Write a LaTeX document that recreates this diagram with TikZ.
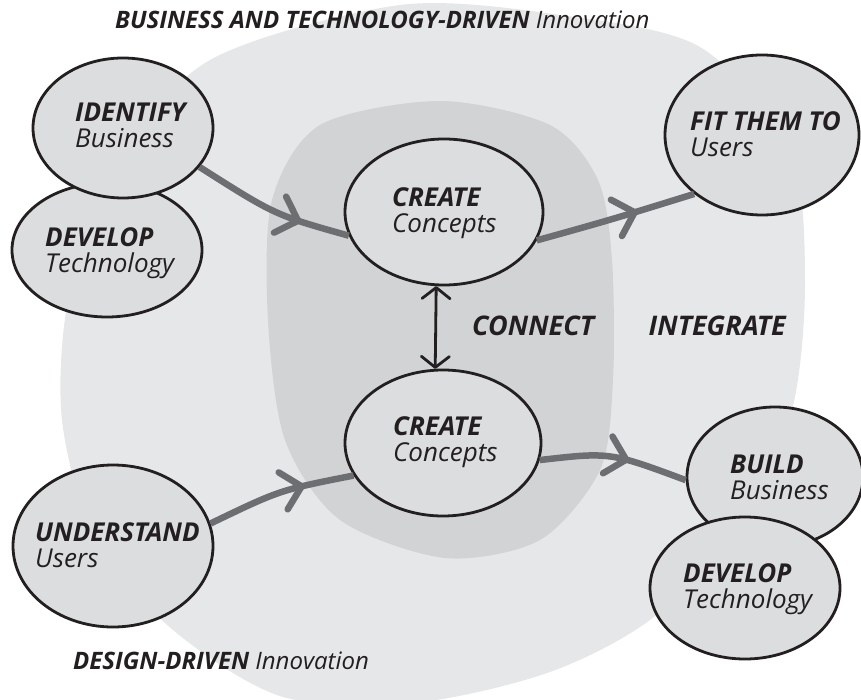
\documentclass[tikz,border=0pt]{standalone}
\usepackage{fontspec}
\setmainfont{Open Sans}
\usepackage{xcolor}
\usepackage{tikz}
\usetikzlibrary{positioning,calc,shapes.geometric,decorations.markings,arrows.meta}

\definecolor{bgOuter}{HTML}{E6E7E8}
\definecolor{bgInner}{HTML}{D1D3D4}
\definecolor{bubbleFill}{HTML}{DCDDDF}
\definecolor{flowGrey}{HTML}{6D6E71}
\definecolor{ink}{HTML}{231F20}

\begin{document}
\begin{tikzpicture}[
    x=1pt, y=-1pt, line join=round,
    bubble/.style={ellipse, draw=ink, line width=2.8pt, fill=bubbleFill, inner sep=0pt},
    txt/.style={anchor=base west, align=left, inner sep=0pt, text=ink, font=\fontsize{26}{26}\selectfont\itshape},
    title/.style={inner sep=0pt, text=ink, font=\fontsize{24}{24}\selectfont\itshape},
    tag/.style={inner sep=0pt, text=ink, font=\fontsize{27}{27}\selectfont\bfseries\itshape},
    flow/.style={draw=flowGrey, line width=6.5pt,
      postaction={decorate, decoration={markings, mark=at position #1 with {
        \draw[flowGrey, line width=6.5pt, line cap=round] (-19pt,19pt) -- (0pt,0pt) -- (-19pt,-19pt);}}}},
    link/.style={draw=ink, line width=2.8pt,
      {Straight Barb[length=11pt,width=28pt,round]}-{Straight Barb[length=11pt,width=28pt,round]}}
]

\path[use as bounding box] (0,0) rectangle (861,700);

% ===== BACKGROUND =====
\fill[bgOuter] plot[smooth cycle] coordinates {(400,5) (560,15) (700,47) (790,150) (805,280) (792,410) (740,530)
  (650,620) (550,672) (420,702) (283,697) (173,630) (95,540) (62,420) (68,300) (110,170) (210,60)};
\fill[bgInner] plot[smooth cycle] coordinates {(440,101) (550,125) (598,180) (612,260) (613,380) (600,470)
  (540,540) (445,558) (340,520) (285,440) (268,320) (272,200) (320,125)};

% ===== TITLES =====
\node[title, anchor=base west] (top) at (115,29) {\bfseries BUSINESS AND TECHNOLOGY-DRIVEN \mdseries Innovation};
\node[title, anchor=base west] (bottom) at (73,669) {\bfseries DESIGN-DRIVEN \mdseries Innovation};

% ===== BUBBLES =====
\node[bubble, minimum width=190pt, minimum height=134pt] (dev1) at (107,250) {};
\node[bubble, minimum width=180pt, minimum height=140pt] (idn) at (123,128) {};
\node[bubble, minimum width=198pt, minimum height=146pt] (cr1) at (444,212) {};
\node[bubble, minimum width=194pt, minimum height=160pt] (fit) at (762,135) {};
\node[bubble, minimum width=196pt, minimum height=146pt] (cr2) at (443,443) {};
\node[bubble, minimum width=200pt, minimum height=162pt] (und) at (113,546) {};
\node[bubble, minimum width=176pt, minimum height=140pt] (bld) at (775,477) {};
\node[bubble, minimum width=190pt, minimum height=142pt] (dev2) at (745,588) {};

% ===== BUBBLE TEXT (anchor = baseline of 2nd line) =====
\node[txt] (idn-t) at ([xshift=-48pt,yshift=-20pt]idn.center) {\bfseries IDENTIFY\\Business};
\node[txt] (dev1-t) at ([xshift=-62pt,yshift=-23pt]dev1.center) {\bfseries DEVELOP\\Technology};
\node[txt] (cr1-t) at ([xshift=-52pt,yshift=-21pt]cr1.center) {\bfseries CREATE\\Concepts};
\node[txt] (fit-t) at ([xshift=-72pt,yshift=-22pt]fit.center) {\bfseries FIT THEM TO\\Users};
\node[txt] (cr2-t) at ([xshift=-50pt,yshift=-18pt]cr2.center) {\bfseries CREATE\\Concepts};
\node[txt] (und-t) at ([xshift=-78pt,yshift=-21pt]und.center) {\bfseries UNDERSTAND\\Users};
\node[txt] (bld-t) at ([xshift=-45pt,yshift=-22pt]bld.center) {\bfseries BUILD\\Business};
\node[txt] (dev2-t) at ([xshift=-62pt,yshift=-20pt]dev2.center) {\bfseries DEVELOP\\Technology};

% ===== MIDDLE LABELS =====
\node[tag, anchor=base west] (connect) at (472,335) {CONNECT};
\node[tag, anchor=base east] (integrate) at (786,335) {INTEGRATE};

% ===== ARROWS =====
\draw[flow=0.68] (idn.-27) .. controls (275,215) .. (cr1.194);
\draw[flow=0.62] (cr1.-17) .. controls (610,220) .. (fit.221);
\draw[flow=0.65] (und.13) .. controls (280,490) .. (cr2.200);
\draw[flow=0.58] (cr2.-10) .. controls (610,452) .. (bld.182);
\draw[link] (cr1.264) -- (cr2.96);

\end{tikzpicture}
\end{document}
